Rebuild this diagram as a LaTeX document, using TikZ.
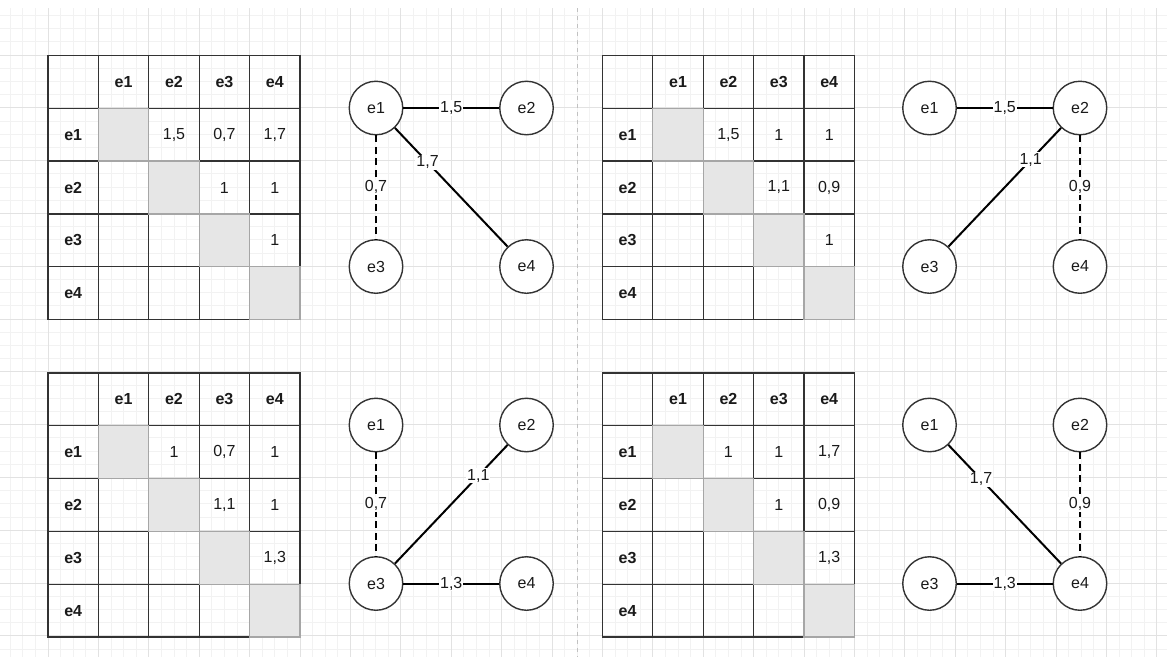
\documentclass[tikz,border=0pt]{standalone}
\usepackage{fontspec}
\setmainfont{Liberation Sans}
\definecolor{gridmajor}{HTML}{E2E2E2}
\definecolor{gridminor}{HTML}{F2F2F2}
\definecolor{tblline}{HTML}{333333}
\definecolor{diagfill}{HTML}{E6E6E6}
\definecolor{diagline}{HTML}{A6A6A6}
\definecolor{txt}{HTML}{1A1A1A}
\tikzset{
  cell/.style={draw=tblline, line width=1.3pt, rectangle, minimum width=50.4pt, minimum height=52.8pt, inner sep=0pt, outer sep=0pt, text=txt, font=\fontsize{16}{18}\selectfont},
  hdr/.style={font=\fontsize{16}{18}\selectfont\bfseries},
  diagcell/.style={cell, fill=diagfill, draw=diagline},
  vnode/.style={circle, draw=tblline, line width=1.4pt, fill=white, minimum size=53.5pt, inner sep=0pt, text=txt, font=\fontsize{16}{18}\selectfont},
  eline/.style={line width=2pt, black},
  dline/.style={eline, dash pattern=on 7pt off 4.5pt},
  elabel/.style={fill=white, inner sep=1pt, text=txt, font=\fontsize{16}{18}\selectfont},
  minorline/.style={gridminor, line width=0.8pt},
  majorline/.style={gridmajor, line width=1pt}
}
\newcommand\tcell[5]{\node[#4] (#1-#3-#2) at ({\tx+(#2+0.5)*50.4},{\ty+(#3+0.5)*52.8}) {#5};}
\newcommand\mtable[9]{%
  \def\tx{#2}\def\ty{#3}%
  \tcell{#1}{0}{0}{cell}{}
  \foreach \i in {1,...,4}{\tcell{#1}{\i}{0}{cell,hdr}{e\i}\tcell{#1}{0}{\i}{cell,hdr}{e\i}}
  \tcell{#1}{2}{1}{cell}{#4}
  \tcell{#1}{3}{1}{cell}{#5}
  \tcell{#1}{4}{1}{cell}{#6}
  \tcell{#1}{3}{2}{cell}{#7}
  \tcell{#1}{4}{2}{cell}{#8}
  \tcell{#1}{4}{3}{cell}{#9}
  \tcell{#1}{1}{2}{cell}{}
  \tcell{#1}{1}{3}{cell}{}
  \tcell{#1}{2}{3}{cell}{}
  \tcell{#1}{1}{4}{cell}{}
  \tcell{#1}{2}{4}{cell}{}
  \tcell{#1}{3}{4}{cell}{}
  \foreach \i in {1,...,4}{\tcell{#1}{\i}{\i}{diagcell}{}}
}
\newcommand\mgraph[3]{% prefix, x-left, y-top
  \node[vnode] (#1-e1) at (#2,#3) {e1};
  \node[vnode] (#1-e2) at ({#2+150.5},#3) {e2};
  \node[vnode] (#1-e3) at (#2,{#3+158.5}) {e3};
  \node[vnode] (#1-e4) at ({#2+150.5},{#3+158.5}) {e4};
}
\begin{document}
\begin{tikzpicture}[x=1pt,y=-1pt]
\fill[white] (0,0) rectangle (1167,657);
\useasboundingbox (0,0) rectangle (1167,657);
\begin{scope}
  \clip (0,8) rectangle (1167,657);
  \foreach \k in {-4,...,89} \draw[minorline] ({48+\k*12.6},0) -- ({48+\k*12.6},657);
  \foreach \k in {-4,...,46} \draw[minorline] (0,{55+\k*13.2}) -- (1167,{55+\k*13.2});
  \foreach \k in {-1,...,22} \draw[majorline] ({48+\k*50.4},0) -- ({48+\k*50.4},657);
  \foreach \k in {-1,...,11} \draw[majorline] (0,{55+\k*52.8}) -- (1167,{55+\k*52.8});
\end{scope}
\coordinate (divtop) at (577.2,8);
\coordinate (divbot) at (577.2,657);
\draw[diagline!70, line width=1pt, dash pattern=on 4pt off 4pt] (divtop) -- (divbot);

% tables
\mtable{ta}{48}{55.5}{1,5}{0,7}{1,7}{1}{1}{1}
\mtable{tb}{602.4}{55.5}{1,5}{1}{1}{1,1}{0,9}{1}
\mtable{tc}{48}{373}{1}{0,7}{1}{1,1}{1}{1,3}
\mtable{td}{602.4}{373}{1}{1}{1,7}{1}{0,9}{1,3}

% graphs
\mgraph{ga}{376}{108}
\draw[eline] (ga-e1) -- node[elabel]{1,5} (ga-e2);
\draw[eline] (ga-e1) -- node[elabel, pos=0.29]{1,7} (ga-e4);
\draw[dline] (ga-e1) -- node[elabel]{0,7} (ga-e3);

\mgraph{gb}{929.5}{108}
\draw[eline] (gb-e1) -- node[elabel]{1,5} (gb-e2);
\draw[eline] (gb-e2) -- node[elabel, pos=0.27]{1,1} (gb-e3);
\draw[dline] (gb-e2) -- node[elabel]{0,9} (gb-e4);

\mgraph{gc}{376}{425}
\draw[dline] (gc-e1) -- node[elabel]{0,7} (gc-e3);
\draw[eline] (gc-e2) -- node[elabel, pos=0.26]{1,1} (gc-e3);
\draw[eline] (gc-e3) -- node[elabel]{1,3} (gc-e4);

\mgraph{gd}{929.5}{425}
\draw[eline] (gd-e1) -- node[elabel, pos=0.29]{1,7} (gd-e4);
\draw[dline] (gd-e2) -- node[elabel]{0,9} (gd-e4);
\draw[eline] (gd-e3) -- node[elabel]{1,3} (gd-e4);
\end{tikzpicture}
\end{document}
